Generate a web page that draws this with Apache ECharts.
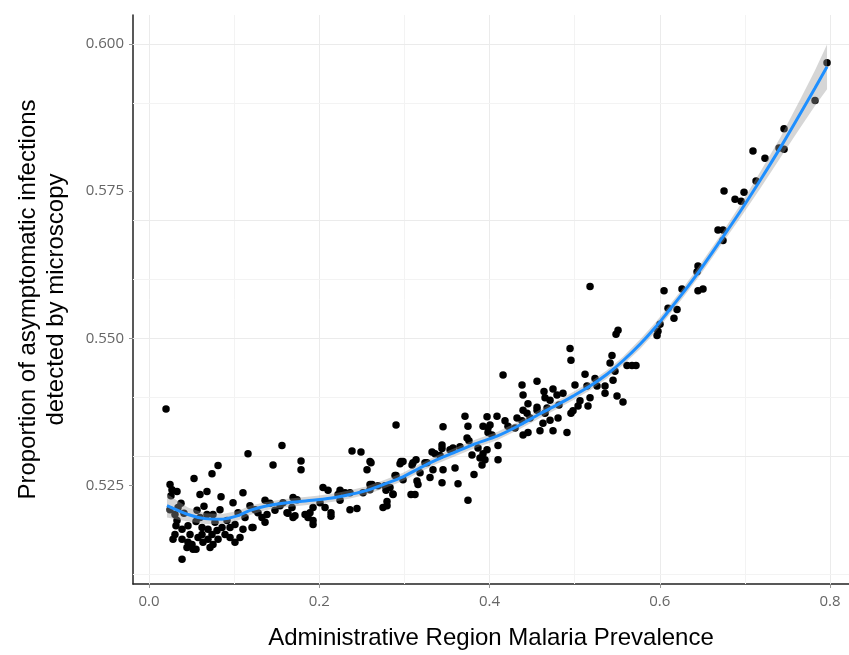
<!DOCTYPE html>
<html>
<head>
<meta charset="utf-8">
<script src="https://cdn.jsdelivr.net/npm/echarts@6/dist/echarts.min.js"></script>
<style>
  html, body { margin: 0; padding: 0; background: #fff; }
  #chart { width: 849px; height: 655px; }
</style>
</head>
<body>
<div id="chart"></div>
<script>
// administrative regions: malaria prevalence vs proportion of asymptomatic infections detected by microscopy
var prevalence = [
  0.0200, 0.0247, 0.0529, 0.0740, 0.0811, 0.1163, 0.0270, 0.0329, 0.0258, 0.0599,
  0.0681, 0.0846, 0.0987, 0.1104, 0.0376, 0.0564, 0.0646, 0.0681, 0.0752, 0.1046,
  0.1186, 0.1245, 0.0305, 0.0247, 0.0329, 0.0458, 0.0388, 0.0305, 0.0482, 0.0282,
  0.0388, 0.0458, 0.0517, 0.0446, 0.0623, 0.0623, 0.0634, 0.0693, 0.0740, 0.0799,
  0.0858, 0.0893, 0.0811, 0.0752, 0.0693, 0.0916, 0.1010, 0.1104, 0.1210, 0.1010,
  0.0952, 0.0388, 0.0505, 0.0341, 0.0317, 0.0576, 0.0552, 0.0775, 0.0952, 0.1128,
  0.0411, 0.0834, 0.0599, 0.1069, 0.0552, 0.0717,
  0.1562, 0.1457, 0.1786, 0.1786, 0.1363, 0.1421, 0.1386, 0.1327, 0.1363, 0.1222,
  0.1692, 0.1739, 0.1680, 0.1633, 0.1715, 0.1833, 0.1927, 0.1891, 0.1868, 0.1927,
  0.1927, 0.2044, 0.2103, 0.2068, 0.2138, 0.2138, 0.2244, 0.2302, 0.2361, 0.2220,
  0.2361, 0.2443, 0.2514, 0.2596, 0.2596, 0.2690, 0.2385, 0.2490, 0.2596, 0.2561,
  0.1539, 0.1480, 0.1621, 0.1692, 0.2749, 0.2796, 0.2784, 0.2866, 0.2902, 0.2902,
  0.2984, 0.2949, 0.2984, 0.2620, 0.2608, 0.2796, 0.2890, 0.2831, 0.2772, 0.2866,
  0.2244, 0.2009, 0.1574, 0.1280,
  0.3078, 0.3125, 0.3148, 0.3160, 0.3101, 0.3137, 0.3266, 0.3325, 0.3360, 0.3442,
  0.3442, 0.3454, 0.3419, 0.3454, 0.3442, 0.3630, 0.3747, 0.3571, 0.3653, 0.3712,
  0.3747, 0.3736, 0.3759, 0.3794, 0.3818, 0.3865, 0.3924, 0.3971, 0.4088, 0.3924,
  0.3971, 0.3912, 0.4029, 0.4100, 0.4100, 0.3982, 0.4006, 0.3090, 0.3242, 0.3336,
  0.3536, 0.3888, 0.3947, 0.3982, 0.2960, 0.3184, 0.3301, 0.3595,
  0.4159, 0.4382, 0.4394, 0.4558, 0.4640, 0.4746, 0.4793, 0.4652, 0.4711, 0.5122,
  0.5004, 0.5145, 0.5263, 0.5357, 0.5451, 0.5474, 0.5357, 0.5498, 0.5568, 0.5181,
  0.5063, 0.5040, 0.4981, 0.4957, 0.5157, 0.4816, 0.4676, 0.4558, 0.4452, 0.4394,
  0.4441, 0.4476, 0.4382, 0.4323, 0.4182, 0.4652, 0.4711, 0.4628, 0.4805, 0.4593,
  0.4746, 0.4910, 0.4452, 0.4394, 0.4217, 0.4300, 0.4558, 0.4946, 0.4957, 0.5181,
  0.5510, 0.5486, 0.5439, 0.5416, 0.5615, 0.5674, 0.5721, 0.4863, 0.5239,
  0.5968, 0.5979, 0.6003, 0.6050, 0.6097, 0.6167, 0.6203, 0.6261, 0.6438, 0.6449,
  0.6449, 0.6508, 0.6684, 0.6743, 0.6743, 0.6755, 0.6884, 0.6955, 0.6990, 0.7095,
  0.7236, 0.7131, 0.7401, 0.7460, 0.7460, 0.7824, 0.7965
]
var proportion = [
  0.5380, 0.5252, 0.5262, 0.5270, 0.5284, 0.5304, 0.5243, 0.5240, 0.5233, 0.5235,
  0.5240, 0.5231, 0.5221, 0.5238, 0.5220, 0.5208, 0.5215, 0.5201, 0.5201, 0.5204,
  0.5216, 0.5209, 0.5201, 0.5209, 0.5191, 0.5182, 0.5176, 0.5167, 0.5167, 0.5159,
  0.5159, 0.5154, 0.5142, 0.5145, 0.5179, 0.5167, 0.5154, 0.5176, 0.5167, 0.5174,
  0.5179, 0.5167, 0.5159, 0.5150, 0.5159, 0.5191, 0.5184, 0.5176, 0.5179, 0.5154,
  0.5162, 0.5125, 0.5150, 0.5213, 0.5182, 0.5162, 0.5189, 0.5188, 0.5179, 0.5196,
  0.5203, 0.5209, 0.5196, 0.5162, 0.5142, 0.5145,
  0.5318, 0.5285, 0.5292, 0.5277, 0.5225, 0.5220, 0.5201, 0.5196, 0.5188, 0.5179,
  0.5230, 0.5226, 0.5213, 0.5203, 0.5199, 0.5201, 0.5213, 0.5204, 0.5196, 0.5191,
  0.5184, 0.5247, 0.5242, 0.5213, 0.5204, 0.5198, 0.5242, 0.5238, 0.5238, 0.5235,
  0.5209, 0.5211, 0.5238, 0.5243, 0.5252, 0.5250, 0.5309, 0.5307, 0.5291, 0.5277,
  0.5216, 0.5208, 0.5204, 0.5196, 0.5213, 0.5223, 0.5242, 0.5236, 0.5353, 0.5267,
  0.5260, 0.5287, 0.5291, 0.5252, 0.5289, 0.5216, 0.5267, 0.5247, 0.5250, 0.5235,
  0.5225, 0.5221, 0.5221, 0.5204,
  0.5235, 0.5235, 0.5258, 0.5252, 0.5289, 0.5294, 0.5289, 0.5307, 0.5304, 0.5319,
  0.5313, 0.5350, 0.5301, 0.5277, 0.5255, 0.5253, 0.5225, 0.5314, 0.5316, 0.5368,
  0.5351, 0.5331, 0.5326, 0.5302, 0.5269, 0.5314, 0.5351, 0.5367, 0.5368, 0.5304,
  0.5311, 0.5285, 0.5336, 0.5318, 0.5294, 0.5348, 0.5353, 0.5285, 0.5289, 0.5277,
  0.5311, 0.5297, 0.5294, 0.5340, 0.5291, 0.5272, 0.5264, 0.5280,
  0.5438, 0.5421, 0.5404, 0.5427, 0.5410, 0.5414, 0.5404, 0.5399, 0.5395, 0.5439,
  0.5421, 0.5419, 0.5419, 0.5419, 0.5429, 0.5444, 0.5407, 0.5402, 0.5392, 0.5399,
  0.5394, 0.5385, 0.5377, 0.5373, 0.5385, 0.5387, 0.5382, 0.5383, 0.5389, 0.5378,
  0.5373, 0.5365, 0.5360, 0.5365, 0.5360, 0.5373, 0.5361, 0.5356, 0.5365, 0.5343,
  0.5343, 0.5340, 0.5340, 0.5336, 0.5351, 0.5348, 0.5378, 0.5483, 0.5463, 0.5588,
  0.5514, 0.5507, 0.5471, 0.5458, 0.5454, 0.5454, 0.5454, 0.5407, 0.5432,
  0.5505, 0.5512, 0.5524, 0.5581, 0.5551, 0.5534, 0.5549, 0.5584, 0.5613, 0.5623,
  0.5581, 0.5584, 0.5684, 0.5684, 0.5666, 0.5750, 0.5736, 0.5733, 0.5748, 0.5818,
  0.5806, 0.5767, 0.5823, 0.5821, 0.5856, 0.5904, 0.5968
]

// loess smoother and its confidence band
var smoothX = [
  0.0211, 0.0458, 0.0658, 0.0858, 0.1046, 0.1186, 0.1363, 0.1574, 0.1774, 0.1974,
  0.2185, 0.2361, 0.2561, 0.2772, 0.2984, 0.3184, 0.3383, 0.3595, 0.3830, 0.4088,
  0.4358, 0.4593, 0.4793, 0.4981, 0.5181, 0.5380, 0.5568, 0.5768, 0.5944, 0.6085,
  0.6261, 0.6473, 0.6708, 0.6943, 0.7178, 0.7413, 0.7648, 0.7824, 0.7965
]
var smoothY = [
  0.5216, 0.5201, 0.5194, 0.5193, 0.5199, 0.5208, 0.5215, 0.5220, 0.5223, 0.5226,
  0.5230, 0.5235, 0.5242, 0.5253, 0.5265, 0.5280, 0.5294, 0.5307, 0.5321, 0.5334,
  0.5353, 0.5372, 0.5387, 0.5402, 0.5419, 0.5439, 0.5462, 0.5490, 0.5518, 0.5543,
  0.5575, 0.5616, 0.5665, 0.5715, 0.5768, 0.5823, 0.5881, 0.5925, 0.5961
]
var bandLow = [
  0.5196, 0.5189, 0.5185, 0.5185, 0.5191, 0.5200, 0.5208, 0.5213, 0.5216, 0.5219,
  0.5223, 0.5228, 0.5235, 0.5246, 0.5258, 0.5273, 0.5287, 0.5300, 0.5314, 0.5327,
  0.5346, 0.5365, 0.5380, 0.5395, 0.5412, 0.5432, 0.5455, 0.5482, 0.5510, 0.5535,
  0.5567, 0.5607, 0.5656, 0.5704, 0.5754, 0.5806, 0.5857, 0.5895, 0.5923
]
var bandHigh = [
  0.5236, 0.5213, 0.5203, 0.5202, 0.5207, 0.5216, 0.5222, 0.5227, 0.5230, 0.5233,
  0.5237, 0.5242, 0.5249, 0.5260, 0.5272, 0.5287, 0.5301, 0.5314, 0.5328, 0.5341,
  0.5360, 0.5379, 0.5394, 0.5409, 0.5426, 0.5446, 0.5469, 0.5498, 0.5526, 0.5551,
  0.5583, 0.5625, 0.5674, 0.5726, 0.5782, 0.5840, 0.5905, 0.5955, 0.5999
]

var xTicks = [0, 0.2, 0.4, 0.6, 0.8]
var xMinor = [0.1, 0.3, 0.5, 0.7]
var yTicks = [0.525, 0.55, 0.575, 0.6]
var yMinor = [0.5125, 0.5375, 0.5625, 0.5875]

var chart = echarts.init(document.getElementById('chart'))

var points = prevalence.map(function (x, i) { return [x, proportion[i]] })
var smoothLine = smoothX.map(function (x, i) { return [x, smoothY[i]] })

var gridLines = []
xTicks.forEach(function (v) { gridLines.push({ xAxis: v, lineStyle: { color: '#ebebeb', width: 1, type: 'solid' } }) })
xMinor.forEach(function (v) { gridLines.push({ xAxis: v, lineStyle: { color: '#f3f3f3', width: 1, type: 'solid' } }) })
yTicks.forEach(function (v) { gridLines.push({ yAxis: v, lineStyle: { color: '#ebebeb', width: 1, type: 'solid' } }) })
yMinor.forEach(function (v) { gridLines.push({ yAxis: v, lineStyle: { color: '#f3f3f3', width: 1, type: 'solid' } }) })

chart.setOption({
  animation: false,
  backgroundColor: '#fff',
  grid: {
    left: 133,
    right: 0,
    top: 15,
    bottom: 68
  },
  xAxis: {
    type: 'value',
    min: -0.0188,
    max: 0.8223,
    name: 'Administrative Region Malaria Prevalence',
    nameLocation: 'middle',
    nameGap: 42,
    nameTextStyle: {
      color: '#000',
      fontSize: 24,
      fontFamily: 'Liberation Sans'
    },
    axisLine: {
      onZero: false,
      lineStyle: { color: '#222', width: 1.5 }
    },
    axisTick: {
      show: true,
      customValues: xTicks,
      length: 4,
      lineStyle: { color: '#999' }
    },
    axisLabel: {
      customValues: xTicks,
      color: '#666',
      fontSize: 15,
      fontFamily: 'Open Sans',
      margin: 10,
      formatter: function (v) { return v.toFixed(1) }
    },
    splitLine: { show: false }
  },
  yAxis: {
    type: 'value',
    min: 0.5083,
    max: 0.6049,
    name: 'Proportion of asymptomatic infections\ndetected by microscopy',
    nameLocation: 'middle',
    nameGap: 63,
    nameTextStyle: {
      color: '#000',
      fontSize: 24,
      lineHeight: 28,
      fontFamily: 'Liberation Sans'
    },
    axisLine: {
      show: true,
      onZero: false,
      lineStyle: { color: '#222', width: 1.5 }
    },
    axisTick: {
      show: true,
      customValues: yTicks,
      length: 4,
      lineStyle: { color: '#999' }
    },
    axisLabel: {
      customValues: yTicks,
      color: '#666',
      fontSize: 15,
      fontFamily: 'Open Sans',
      margin: 9,
      formatter: function (v) { return v.toFixed(3) }
    },
    splitLine: { show: false }
  },
  series: [
    {
      type: 'scatter',
      z: 2,
      symbolSize: 7.5,
      itemStyle: { color: '#000', opacity: 1 },
      data: points,
      markLine: {
        silent: true,
        z: 1,
        symbol: 'none',
        label: { show: false },
        emphasis: { disabled: true },
        data: gridLines
      }
    },
    {
      type: 'custom',
      z: 3,
      silent: true,
      data: [[smoothX[0], smoothY[0]]],
      renderItem: function (params, api) {
        var pts = []
        for (var i = 0; i < smoothX.length; i++) {
          pts.push(api.coord([smoothX[i], bandHigh[i]]))
        }
        for (var j = smoothX.length - 1; j >= 0; j--) {
          pts.push(api.coord([smoothX[j], bandLow[j]]))
        }
        return {
          type: 'polygon',
          shape: { points: pts },
          style: { fill: 'rgba(153,153,153,0.4)' }
        }
      }
    },
    {
      type: 'line',
      z: 4,
      smooth: 0.3,
      showSymbol: false,
      silent: true,
      lineStyle: { color: '#1E8FFF', width: 3 },
      data: smoothLine
    }
  ]
})
</script>
</body>
</html>
